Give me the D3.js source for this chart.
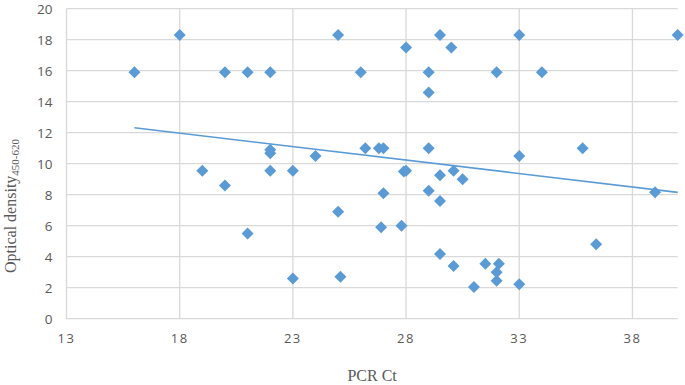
<!DOCTYPE html>
<html lang="en">
  <head>
    <meta charset="utf-8"/>
    <script src="https://d3js.org/d3.v7.min.js"></script>
    <title>PCR Ct vs Optical density</title>
    <style>
      body { margin: 0; background: #fff; }
      svg { display: block; }
    </style>
  </head>
  <body>
    <div id="chart"><svg></svg></div>
    <script>
      const width = 685;
      const height = 385;
      const margin = {top: 8.7, right: 7.3, bottom: 66.3, left: 66.5};

      // values
      const pcrCt = [16, 18, 19, 20, 20, 21, 21, 22, 22, 22, 22, 23, 23, 24, 25, 25, 25.1, 26,
        26.2, 26.8, 27, 27, 26.9, 27.8, 27.9, 28, 28, 29.5, 29, 29, 29, 29, 29.5, 29.5, 29.5,
        30, 30.1, 30.5, 30.1, 31, 31.5, 32, 32.1, 32, 32, 33, 33, 33, 34, 35.8, 36.4, 39, 40];
      const opticalDensity = [15.9, 18.3, 9.55, 15.9, 8.6, 15.9, 5.5, 15.9, 10.9, 10.67, 9.55, 9.55, 2.6, 10.5, 18.3, 6.9, 2.7, 15.9,
        11.0, 11.0, 11.0, 8.1, 5.9, 6.0, 9.5, 9.55, 17.5, 18.3, 15.9, 14.6, 11.0, 8.25, 9.25, 7.6, 4.17,
        17.5, 9.55, 9.0, 3.4, 2.05, 3.55, 15.9, 3.55, 3.0, 2.45, 18.3, 10.5, 2.22, 15.9, 11.0, 4.8, 8.15, 18.3];
      // linear trend line end points
      const trendCt = [16, 40];
      const trendDensity = [12.32, 8.15];
      const xTicks = [13, 18, 23, 28, 33, 38];
      const yTicks = [0, 2, 4, 6, 8, 10, 12, 14, 16, 18, 20];

      const data = pcrCt.map((x, i) => ({x: x, y: opticalDensity[i]}));
      const trend = trendCt.map((x, i) => ({x: x, y: trendDensity[i]}));

      const svg = d3.select("#chart").select("svg")
        .attr("width", width)
        .attr("height", height);

      const xScale = d3.scaleLinear()
        .domain([13, 40])
        .range([margin.left, width - margin.right]);

      const yScale = d3.scaleLinear()
        .domain([0, 20])
        .range([height - margin.bottom, margin.top]);

      const gridColor = "#d9d9d9";
      const textColor = "#595959";
      const blue = "#5b9bd5";

      // horizontal grid
      svg.append("g")
        .selectAll("line")
        .data(yTicks)
        .join("line")
        .attr("x1", xScale(13))
        .attr("x2", xScale(40))
        .attr("y1", (d) => yScale(d))
        .attr("y2", (d) => yScale(d))
        .attr("stroke", gridColor)
        .attr("stroke-width", 1.3);

      // vertical grid
      svg.append("g")
        .selectAll("line")
        .data(xTicks)
        .join("line")
        .attr("x1", (d) => xScale(d))
        .attr("x2", (d) => xScale(d))
        .attr("y1", yScale(0))
        .attr("y2", yScale(20))
        .attr("stroke", gridColor)
        .attr("stroke-width", 1.3);

      // y tick labels
      svg.append("g")
        .selectAll("text")
        .data(yTicks)
        .join("text")
        .attr("x", margin.left - 14)
        .attr("y", (d) => yScale(d))
        .attr("dy", "0.36em")
        .attr("text-anchor", "end")
        .attr("font-family", "'Open Sans', sans-serif")
        .attr("font-size", 13.5)
        .attr("fill", textColor)
        .text((d) => d);

      // x tick labels
      svg.append("g")
        .selectAll("text")
        .data(xTicks)
        .join("text")
        .attr("x", (d) => xScale(d))
        .attr("y", yScale(0) + 20)
        .attr("dy", "0.36em")
        .attr("text-anchor", "middle")
        .attr("font-family", "'Open Sans', sans-serif")
        .attr("font-size", 13)
        .attr("letter-spacing", 1.5)
        .attr("fill", textColor)
        .text((d) => d);

      svg.append("path")
        .datum(trend)
        .attr("fill", "none")
        .attr("stroke", blue)
        .attr("stroke-width", 1.6)
        .attr("d", d3.line().x((d) => xScale(d.x)).y((d) => yScale(d.y)));

      // diamond markers
      const diamond = d3.symbol().type(d3.symbolSquare).size(72);
      svg.append("g")
        .selectAll("path")
        .data(data)
        .join("path")
        .attr("d", diamond)
        .attr("transform", (d) => "translate(" + xScale(d.x) + "," + yScale(d.y) + ") rotate(45)")
        .attr("fill", blue);

      // axis titles
      svg.append("text")
        .attr("x", (margin.left + width - margin.right) / 2)
        .attr("y", 381)
        .attr("text-anchor", "middle")
        .attr("font-family", "'Liberation Serif', 'Times New Roman', serif")
        .attr("font-size", 16)
        .attr("fill", textColor)
        .text("PCR Ct");

      const yTitle = svg.append("text")
        .attr("transform", "translate(16," + 206 + ") rotate(-90)")
        .attr("text-anchor", "middle")
        .attr("font-family", "'Liberation Serif', 'Times New Roman', serif")
        .attr("font-size", 16)
        .attr("fill", textColor);
      yTitle.append("tspan").text("Optical density");
      yTitle.append("tspan")
        .attr("font-size", 11)
        .attr("dy", 3)
        .text("450-620");
    </script>
  </body>
</html>
